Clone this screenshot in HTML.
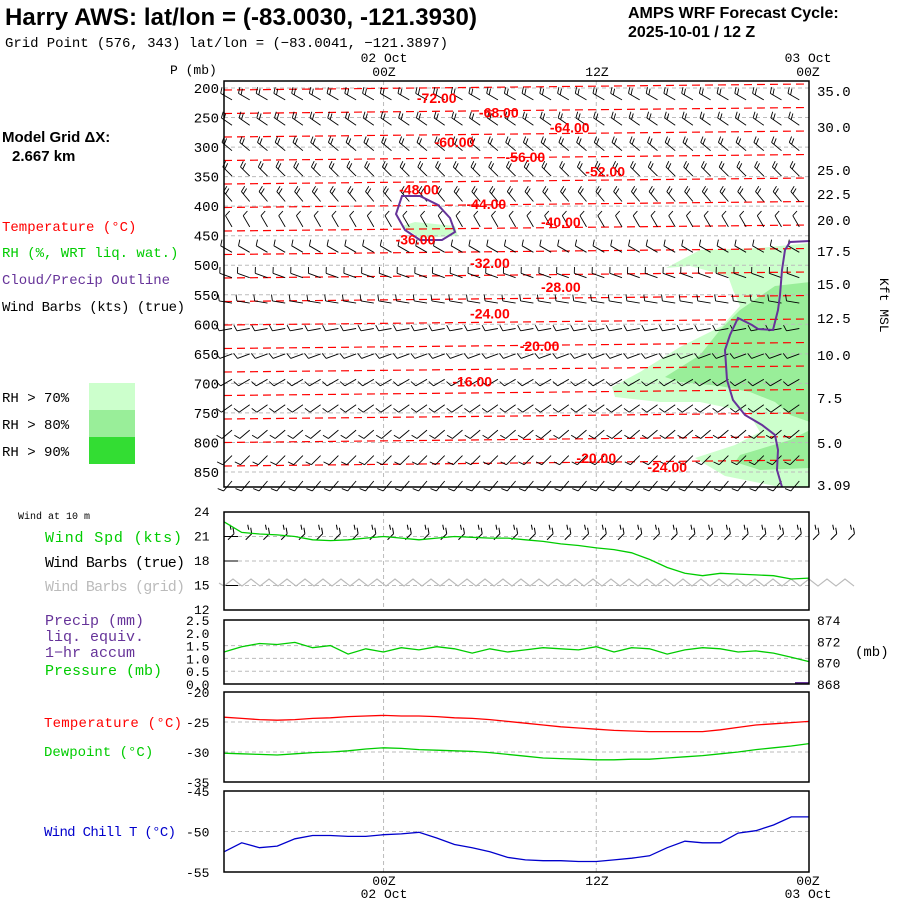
<!DOCTYPE html>
<html><head><meta charset="utf-8"><style>
html,body{margin:0;padding:0;background:#fff}
svg{display:block}
text{font-family:"Liberation Mono",monospace}
.b{font-family:"Liberation Sans",sans-serif}
</style></head><body>
<svg id="c" width="900" height="900" viewBox="0 0 900 900">
<rect width="900" height="900" fill="#fff"/>
<text class="b" x="5" y="25" font-size="24" font-weight="bold" textLength="472">Harry AWS:  lat/lon = (-83.0030, -121.3930)</text>
<text x="5" y="47" font-size="14" textLength="443">Grid Point (576, 343) lat/lon = (−83.0041, −121.3897)</text>
<text class="b" x="628" y="18" font-size="16" font-weight="bold">AMPS WRF Forecast Cycle:</text>
<text class="b" x="628" y="37" font-size="16" font-weight="bold">2025-10-01 / 12  Z</text>
<text class="b" x="2" y="142" font-size="15" font-weight="bold">Model Grid ΔX:</text>
<text class="b" x="12" y="161" font-size="15" font-weight="bold">2.667 km</text>
<text x="2" y="231" font-size="14" fill="#f00">Temperature (°C)</text>
<text x="2" y="257" font-size="14" fill="#0c0">RH (%, WRT liq. wat.)</text>
<text x="2" y="284" font-size="14" fill="#639">Cloud/Precip Outline</text>
<text x="2" y="311" font-size="14" textLength="183">Wind Barbs (kts) (true)</text>
<rect x="89" y="383" width="46" height="27" fill="#ccffcc"/>
<rect x="89" y="410" width="46" height="27" fill="#99ee99"/>
<rect x="89" y="437" width="46" height="27" fill="#33dd33"/>
<text x="2" y="402" font-size="14">RH &gt; 70%</text>
<text x="2" y="429" font-size="14">RH &gt; 80%</text>
<text x="2" y="456" font-size="14">RH &gt; 90%</text>
<text x="170" y="74" font-size="13">P (mb)</text>
<text x="880" y="278" font-size="13" transform="rotate(90 880 278)">Kft MSL</text>
<text x="18" y="519" font-size="10">Wind at 10 m</text>
<text x="45" y="542" font-size="15" textLength="137" fill="#0c0">Wind Spd (kts)</text>
<text x="45" y="567" font-size="15" textLength="140">Wind Barbs (true)</text>
<text x="45" y="591" font-size="15" textLength="140" fill="#bbb">Wind Barbs (grid)</text>
<text x="45" y="625" font-size="15" fill="#639">Precip (mm)</text>
<text x="45" y="641" font-size="15" fill="#639">liq. equiv.</text>
<text x="45" y="657" font-size="15" fill="#639">1−hr accum</text>
<text x="45" y="675" font-size="15" fill="#0c0">Pressure (mb)</text>
<text x="855" y="656" font-size="14">(mb)</text>
<text x="44" y="727" font-size="14" textLength="138" fill="#f00">Temperature (°C)</text>
<text x="44" y="756" font-size="14" fill="#0c0">Dewpoint (°C)</text>
<text x="44" y="836" font-size="14" textLength="132" fill="#00c">Wind Chill T (°C)</text>
<g id="g"></g>
</svg>
<script>
const hours=[...Array(34).keys()];
const pLevels=[200,250,300,350,400,450,500,550,600,650,700,750,800,850];
const kftTicks=["35.0","30.0","25.0","22.5","20.0","17.5","15.0","12.5","10.0","7.5","5.0","3.09"];
const kftY=[91,127,170,194,220,251,284,318,355,398,443,485];
const windSpd=[22.8,21.5,21.3,21.2,21.0,20.6,20.5,20.6,20.8,21.0,20.8,20.6,20.8,21.0,20.9,20.8,20.8,20.6,20.4,20.1,19.9,19.6,19.4,19.0,18.2,17.2,16.5,16.2,16.5,16.4,16.3,16.2,15.8,15.9];
const pressure=[871.0,871.5,871.8,871.7,871.9,871.4,871.6,870.8,871.3,871.0,871.4,871.2,871.5,871.3,870.9,871.3,871.0,871.2,871.4,871.3,871.2,871.5,871.0,871.4,871.3,870.8,871.2,871.4,871.3,871.0,871.1,870.9,870.5,870.1];
const temp=[-24.2,-24.4,-24.6,-24.7,-24.6,-24.4,-24.3,-24.1,-24.0,-23.9,-24.0,-24.0,-24.1,-24.3,-24.4,-24.6,-24.9,-25.2,-25.5,-25.8,-26.0,-26.2,-26.4,-26.5,-26.6,-26.6,-26.6,-26.6,-26.3,-25.9,-25.5,-25.3,-25.1,-24.9];
const dewp=[-30.2,-30.3,-30.4,-30.5,-30.3,-30.1,-30.0,-29.8,-29.5,-29.3,-29.4,-29.6,-29.7,-29.8,-29.9,-30.1,-30.4,-30.7,-31.0,-31.1,-31.2,-31.3,-31.3,-31.2,-31.2,-31.0,-30.8,-30.6,-30.3,-30.0,-29.6,-29.3,-29.0,-28.6];
const wchill=[-52.5,-51.4,-52.0,-51.8,-50.9,-50.5,-50.5,-50.6,-50.6,-50.4,-50.3,-50.1,-50.8,-51.6,-52.0,-52.5,-53.2,-53.5,-53.6,-53.6,-53.7,-53.7,-53.5,-53.3,-53.0,-52.0,-51.2,-51.4,-51.4,-50.2,-49.9,-49.2,-48.2,-48.2];
const tempLabels=["-72.00","-68.00","-64.00","-60.00","-56.00","-52.00","-48.00","-44.00","-40.00","-36.00","-32.00","-28.00","-24.00","-20.00","-16.00","-20.00","-24.00"];
const tempLabelHour=[12,15.5,19.5,13,17,21.5,11,14.8,19,10.8,15,19,15,17.8,14,21,25];
const tempLabelP=[225,250,275,300,325,350,380,405,435,465,505,545,590,645,705,835,850];
const barbDir=[300,305,310,315,320,330,300,290,280,260,250,240,235,230,225,220];
const barbSpd=[25,25,20,20,20,15,10,10,10,10,10,10,10,10,10,10];

const NS='http://www.w3.org/2000/svg',G=document.getElementById('g');
function el(t,a,p){const e=document.createElementNS(NS,t);for(const k in a)e.setAttribute(k,a[k]);(p||G).appendChild(e);return e;}
const X0=224,X1=809;
const xh=h=>X0+h*(X1-X0)/33;
const yp=p=>88+(p-200)*384/650;
function lin(v0,v1,y0,y1){return v=>y0+(v-v0)*(y1-y0)/(v1-v0);}
function frame(y0,y1,name){const r=el('rect',{x:X0,y:y0,width:X1-X0,height:y1-y0,fill:'none',stroke:'#000','stroke-width':1.5});}
function vgrid(y0,y1){[9,21].forEach(h=>el('line',{x1:xh(h),x2:xh(h),y1:y0,y2:y1,stroke:'#bbb','stroke-dasharray':'4,3'}));}
function hgrid(y){el('line',{x1:X0,x2:X1,y1:y,y2:y,stroke:'#bbb','stroke-dasharray':'4,3'});}
function txt(x,y,s,o){const t=el('text',Object.assign({x:x,y:y,'font-size':13},o||{}));t.textContent=s;return t;}
function series(arr,f,col,name){const d=arr.map((v,i)=>(i?'L':'M')+xh(hours[i]).toFixed(1)+','+f(v).toFixed(1)).join('');const p=el('path',{d:d,fill:'none',stroke:col,'stroke-width':1.3});}

const MY0=81,MY1=487;
const light=el('polygon',{fill:'#ccffcc',points:'666,268 700,250 760,248 810,243 810,487 780,487 725,476 695,458 735,445 760,432 748,412 700,402 660,402 615,397 612,387 640,372 680,347 722,326 740,306 733,290 728,276 690,266'});

const lt2=el('polygon',{fill:'#ccffcc',points:'402,226 415,222 455,226 458,236 420,238'});

const med=el('polygon',{fill:'#99ee99',points:'810,282 775,286 740,310 720,330 700,355 665,377 680,382 720,386 750,392 775,402 790,415 810,422'});

const med2=el('polygon',{fill:'#99ee99',points:'810,430 790,440 740,455 735,462 760,470 810,468'});

pLevels.forEach(p=>{hgrid(yp(p));});
vgrid(MY0,MY1);
const nC=17;
for(let k=0;k<nC;k++){const y=88+k*23.5;const c=el('path',{d:`M${X0},${y+2} L${X1},${y-4}`,stroke:'#f00','stroke-dasharray':'8,5',fill:'none','stroke-width':1.2});}
const rows=16;
for(let r=0;r<rows;r++){const p=210+r*43;const y=yp(p)+6;
 for(let i=0;i<33;i++){const x=xh(hours[i])+8;const a=barbDir[r]*Math.PI/180;
  const dx=Math.sin(a),dy=-Math.cos(a);const L=13;const x2=x+dx*L,y2=y+dy*L;
  let d=`M${x.toFixed(1)},${y.toFixed(1)}L${x2.toFixed(1)},${y2.toFixed(1)}`;
  const n=Math.max(1,Math.floor(barbSpd[r]/10));
  for(let b=0;b<n;b++){const bx=x+dx*(L-b*3),by=y+dy*(L-b*3);d+=`M${bx.toFixed(1)},${by.toFixed(1)}l${(-dy*6+dx*2).toFixed(1)},${(dx*6+dy*2).toFixed(1)}`;}
  const e=el('path',{d:d,stroke:'#000',fill:'none','stroke-width':0.9});}}
const cl=el('path',{d:'M810,241 L790,242 785,250 782,270 780,295 778,310 773,330 758,329 752,325 738,318 730,335 725,350 727,380 733,400 745,415 762,425 775,435 778,450 777,470 782,487',stroke:'#639',fill:'none','stroke-width':2});

const cl2=el('path',{d:'M402,196 L420,196 438,205 450,218 455,232 442,240 420,240 405,230 396,214 Z',stroke:'#639',fill:'none','stroke-width':2});

tempLabels.forEach((s,i)=>{const t=txt(xh(tempLabelHour[i]),yp(tempLabelP[i]),s,{'font-size':14,'font-weight':'bold',fill:'#f00','text-anchor':'middle',class:'b'});});
frame(MY0,MY1,'profile-panel');
pLevels.forEach(p=>{txt(219,yp(p)+5,String(p),{'text-anchor':'end','font-size':14});});
kftTicks.forEach((s,i)=>txt(817,kftY[i]+5,s,{'font-size':14}));
txt(384,62,'02 Oct',{'text-anchor':'middle'});txt(384,76,'00Z',{'text-anchor':'middle'});
txt(597,76,'12Z',{'text-anchor':'middle'});
txt(808,62,'03 Oct',{'text-anchor':'middle'});txt(808,76,'00Z',{'text-anchor':'middle'});

const wy=lin(24,12,512,610);
[21,18,15].forEach(v=>{hgrid(wy(v));el('line',{x1:X0,x2:X0+14,y1:wy(v),y2:wy(v),stroke:'#000'});});
vgrid(512,610);
[24,21,18,15,12].forEach(v=>txt(194,wy(v)+4,String(v),{'font-size':13}));
let zz='M'+(X0-5)+','+wy(15.3);for(let x=X0;x<=862;x+=9)zz+=`L${x},${wy(15.3)+((x/9|0)%2?-4:3)}`;
const zg=el('path',{d:zz,stroke:'#bbb',fill:'none','stroke-width':1.2});
for(let i=0;i<36;i+=1){const x=xh(hours[0]+i)+4;const b=el('path',{d:`M${x},${wy(20.6)} l6,-6 m0,0 l-1,-6 m-2,2 l-1,-5`,stroke:'#000',fill:'none'});}
series(windSpd,wy,'#0c0','wind-speed-line');
frame(512,610,'wind-panel');

const py=lin(874,868,620,684),pp=lin(2.5,0,620,684);
[1.5,1.0,0.5].forEach(v=>{hgrid(pp(v));});
vgrid(620,684);
['2.5','2.0','1.5','1.0','0.5','0.0'].forEach(s=>txt(186,pp(+s)+5,s,{'font-size':13}));
[874,872,870,868].forEach(v=>txt(817,py(v)+5,String(v),{'font-size':13}));
series(pressure,py,'#0c0','pressure-line');
el('line',{x1:795,x2:X1,y1:683,y2:683,stroke:'#639','stroke-width':2});
frame(620,684,'precip-pressure-panel');

const ty=lin(-20,-35,692,782);
[-25,-30].forEach(v=>{hgrid(ty(v));});
vgrid(692,782);
[-20,-25,-30,-35].forEach(v=>txt(186,ty(v)+5,String(v),{'font-size':13}));
series(temp,ty,'#f00','temperature-line');
series(dewp,ty,'#0c0','dewpoint-line');
frame(692,782,'temperature-panel');

const cy=lin(-45,-55,791,872);
hgrid(cy(-50));vgrid(791,872);
[-45,-50,-55].forEach(v=>txt(186,cy(v)+5,String(v),{'font-size':13}));
series(wchill,cy,'#00c','wind-chill-line');
frame(791,872,'wind-chill-panel');
txt(384,885,'00Z',{'text-anchor':'middle'});txt(384,898,'02 Oct',{'text-anchor':'middle'});
txt(597,885,'12Z',{'text-anchor':'middle'});
txt(808,885,'00Z',{'text-anchor':'middle'});txt(808,898,'03 Oct',{'text-anchor':'middle'});
</script>
</body></html>
